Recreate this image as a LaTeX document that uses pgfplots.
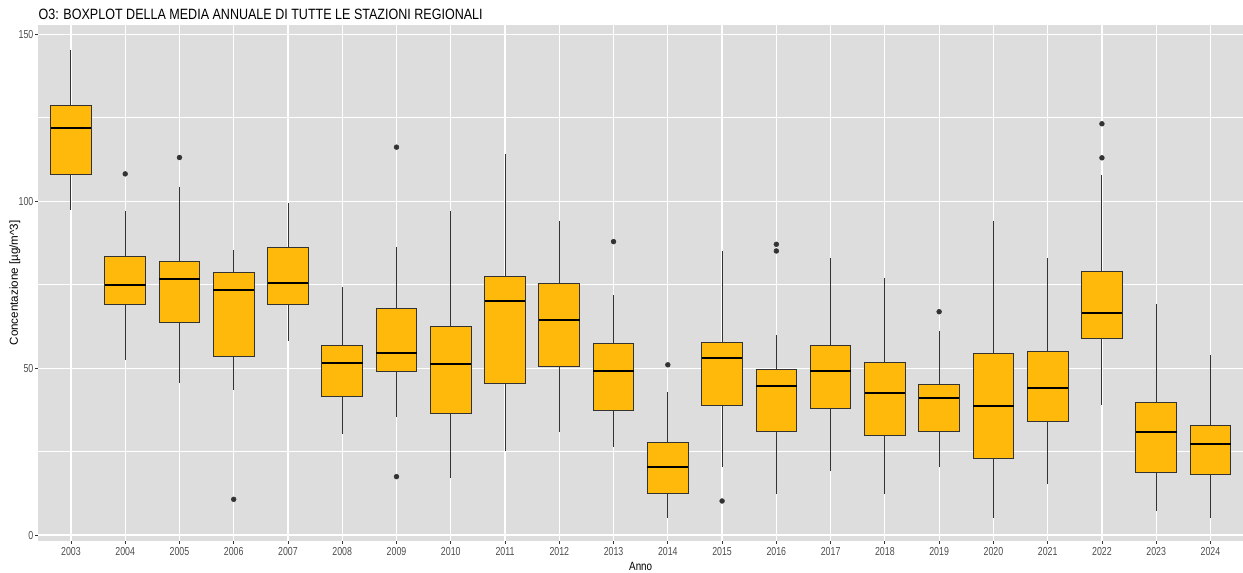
\documentclass[border=0pt]{standalone}
\usepackage{fontspec}
\setmainfont{Liberation Sans}
\newfontfamily\tickfont{Liberation Sans}[FakeStretch=0.76]
\newfontfamily\titlefont{Liberation Sans}[FakeStretch=0.84]
\newfontfamily\xlabfont{Liberation Sans}[FakeStretch=0.82]
\usepackage{pgfplots}
\pgfplotsset{compat=1.18}
\usepgfplotslibrary{statistics}
\usetikzlibrary{calc}

\definecolor{ggbg}{RGB}{220,221,220}
\definecolor{ggfill}{RGB}{255,185,10}
\definecolor{ggline}{RGB}{51,51,51}
\definecolor{ggtick}{RGB}{77,77,77}

% draw position, lower whisker, lower quartile, median, upper quartile, upper whisker
\pgfplotsset{gg/.style n args={6}{boxplot prepared={draw position=#1, lower whisker=#2,
  lower quartile=#3, median=#4, upper quartile=#5, upper whisker=#6}}}

\begin{document}
\begin{tikzpicture}
\begin{axis}[
  scale only axis, width=903.9pt, height=387pt,
  xmin=0.4, xmax=22.6, ymin=-1.7, ymax=152.8,
  axis background/.style={fill=ggbg},
  axis lines*=left, axis line style={draw=none},
  xtick={1,...,22},
  xticklabels={2003,2004,2005,2006,2007,2008,2009,2010,2011,2012,2013,2014,2015,2016,2017,2018,2019,2020,2021,2022,2023,2024},
  ytick={0,50,100,150}, minor ytick={25,75,125},
  xmajorgrids, ymajorgrids, yminorgrids,
  major grid style={white, line width=0.9pt},
  minor grid style={white, line width=0.45pt},
  tick align=outside, major tick length=2.6pt, minor tick length=0pt,
  tick style={ggline, line width=0.6pt},
  tick label style={font=\tickfont\fontsize{8.7}{10}\selectfont, text=ggtick},
  /pgf/number format/assume math mode=true,
  yticklabel style={anchor=east, inner sep=0pt, xshift=-1pt},
  xticklabel style={anchor=base, inner sep=0pt, yshift=-8.3pt},
  xlabel={Anno}, ylabel={Concentazione [µg/m\^{}3]},
  every axis x label/.style={at={(axis description cs:0.5,-0.057)}, anchor=base,
    font=\xlabfont\fontsize{9}{11}\selectfont},
  every axis y label/.style={at={(axis description cs:-0.0195,0.5)}, rotate=90, anchor=center,
    font=\fontsize{8.7}{10}\selectfont},
  every axis title shift=0pt,
  title={O3: BOXPLOT DELLA MEDIA ANNUALE DI TUTTE LE STAZIONI REGIONALI},
  title style={at={(axis description cs:0,1)}, anchor=base west, yshift=4.3pt,
    inner sep=0pt, font=\titlefont\fontsize{11.2}{13}\selectfont},
  boxplot/draw direction=y,
  boxplot/box extend=0.75, boxplot/whisker extend=0,
  boxplot/every box/.style={fill=ggfill, draw=ggline, line width=0.7pt},
  boxplot/every median/.style={black, line width=1.5pt},
  boxplot/every whisker/.style={ggline, line width=0.7pt},
  every axis plot/.append style={mark=*, mark size=1.8pt, mark options={draw=ggline, fill=ggline}},
]
\addplot[gg={1}{97.3}{107.9}{122}{128.6}{145.3}] coordinates {};
\addplot[gg={2}{52.3}{69.2}{74.9}{83.6}{97.2}] table[row sep=\\, y index=0] {y\\ 108.2\\};
\addplot[gg={3}{45.5}{63.6}{76.7}{82.0}{104.3}] table[row sep=\\, y index=0] {y\\ 113.1\\};
\addplot[gg={4}{43.4}{53.6}{73.4}{78.7}{85.3}] table[row sep=\\, y index=0] {y\\ 10.7\\};
\addplot[gg={5}{58.2}{69.2}{75.4}{86.2}{99.4}] coordinates {};
\addplot[gg={6}{30.4}{41.6}{51.5}{56.8}{74.4}] coordinates {};
\addplot[gg={7}{35.3}{49.1}{54.4}{68.0}{86.2}] table[row sep=\\, y index=0] {y\\ 116.2\\ 17.5\\};
\addplot[gg={8}{17.1}{36.4}{51.1}{62.6}{97.0}] coordinates {};
\addplot[gg={9}{25.3}{45.5}{70.0}{77.4}{114.2}] coordinates {};
\addplot[gg={10}{31.0}{50.5}{64.5}{75.5}{94.0}] coordinates {};
\addplot[gg={11}{26.4}{37.4}{49.1}{57.3}{72.0}] table[row sep=\\, y index=0] {y\\ 87.9\\};
\addplot[gg={12}{5.1}{12.5}{20.3}{27.7}{43.0}] table[row sep=\\, y index=0] {y\\ 51.0\\};
\addplot[gg={13}{20.3}{38.9}{53.0}{57.8}{85.2}] table[row sep=\\, y index=0] {y\\ 10.2\\};
\addplot[gg={14}{12.3}{31.1}{44.6}{49.7}{60.0}] table[row sep=\\, y index=0] {y\\ 87.1\\ 85.1\\};
\addplot[gg={15}{19.3}{38.0}{49.1}{56.9}{83.0}] coordinates {};
\addplot[gg={16}{12.2}{29.7}{42.5}{51.8}{76.9}] coordinates {};
\addplot[gg={17}{20.3}{30.9}{41.0}{45.1}{61.0}] table[row sep=\\, y index=0] {y\\ 66.9\\};
\addplot[gg={18}{5.1}{22.9}{38.6}{54.4}{94.0}] coordinates {};
\addplot[gg={19}{15.3}{34.1}{44.2}{54.9}{83.0}] coordinates {};
\addplot[gg={20}{39.0}{58.9}{66.6}{79.0}{108.0}] table[row sep=\\, y index=0] {y\\ 123.2\\ 113.0\\};
\addplot[gg={21}{7.3}{18.8}{31.0}{39.8}{69.1}] coordinates {};
\addplot[gg={22}{5.1}{18.1}{27.4}{32.9}{54.0}] coordinates {};
\end{axis}
\pgfresetboundingbox
\path ($(current axis.south west)+(-28.8pt,-24pt)$) rectangle ($(current axis.north east)+(0pt,18.75pt)$);
\end{tikzpicture}
\end{document}
